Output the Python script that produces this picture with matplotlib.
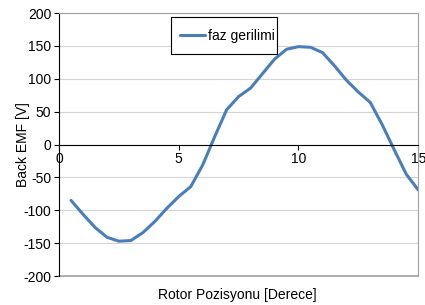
import numpy as np
import matplotlib.pyplot as plt
from matplotlib.patches import Rectangle

plt.rcParams['font.family'] = ['Liberation Sans', 'DejaVu Sans']
plt.rcParams['axes.unicode_minus'] = False

# rotor position (degrees) and phase back EMF (V)
position = [0.5, 1.0, 1.5, 2.0, 2.5, 3.0, 3.5, 4.0, 4.5, 5.0,
            5.5, 6.0, 6.5, 7.0, 7.5, 8.0, 8.5, 9.0, 9.5, 10.0,
            10.5, 11.0, 11.5, 12.0, 12.5, 13.0, 13.5, 14.0, 14.5, 15.0]
emf = [-85, -106, -126, -141, -147, -146, -134, -117, -97, -79,
       -64, -31, 12, 53, 73, 86, 108, 130, 145, 149,
       148, 140, 120, 98, 80, 64, 30, -8, -45, -69]
xticks = [0, 5, 10, 15]
yticks = [-200, -150, -100, -50, 0, 50, 100, 150, 200]

fig = plt.figure(figsize=(4.25, 3.05), dpi=100)
ax = fig.add_axes([0.139, 0.095, 0.845, 0.862])

ax.plot(position, emf, color='#4a7ebb', lw=2.2, label='faz gerilimi',
        solid_joinstyle='round', solid_capstyle='round')

ax.set_xlim(0, 15)
ax.set_ylim(-200, 200)
ax.set_xticks(xticks)
ax.set_yticks(yticks)
ax.yaxis.grid(True, color='#d4d4d4', lw=0.8)
ax.set_axisbelow(True)

ax.spines['bottom'].set_position(('data', 0))
ax.spines['bottom'].set_color('black')
ax.spines['left'].set_color('black')
ax.spines['top'].set_color('#a0a0a0')
ax.spines['right'].set_color('#a0a0a0')
ax.axhline(-200, color='#a0a0a0', lw=1.2, clip_on=False)

ax.tick_params(axis='both', labelsize=10, direction='out', length=3.5, width=0.8)
ax.tick_params(axis='x', pad=2)
ax.tick_params(axis='y', pad=2)

ax.set_ylabel('Back EMF [V]', fontsize=10)
ax.yaxis.set_label_coords(-0.082, 0.5)
fig.text(0.558, 0.033, 'Rotor Pozisyonu [Derece]', fontsize=10, ha='center', va='center')

# legend: box drawn separately so the padding matches the reference
ax.add_patch(Rectangle((0.311, 0.844), 0.295, 0.141, transform=ax.transAxes,
                       facecolor='white', edgecolor='black', lw=0.8, zorder=4))
leg = ax.legend(loc='center left', bbox_to_anchor=(0.338, 0.913), fontsize=10,
                frameon=False, borderpad=0, borderaxespad=0,
                handlelength=1.8, handletextpad=0.15)
leg.set_zorder(5)

fig.savefig('out.png', dpi=100)
